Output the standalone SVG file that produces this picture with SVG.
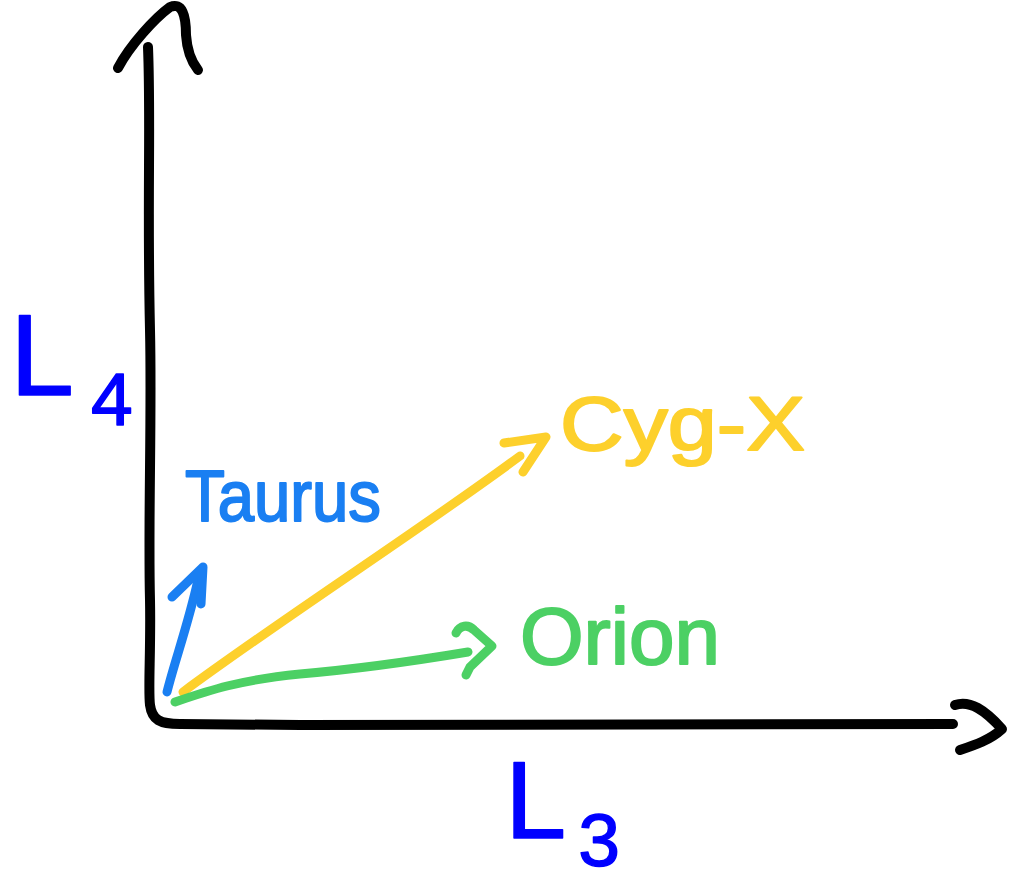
<svg xmlns="http://www.w3.org/2000/svg" width="1013" height="882" viewBox="0 0 1013 882">
<style>
.ink{fill:none;stroke-linecap:round;stroke-linejoin:round}
.ax{stroke:#000;stroke-width:10}
.taurus{stroke:#1a7ff2;stroke-width:9}
.cyg{stroke:#fdd02c;stroke-width:9}
.orion{stroke:#4cd064;stroke-width:9}
.lbl{font-family:"Liberation Sans","DejaVu Sans",sans-serif;stroke-linejoin:round}
.axlbl{font-family:"Liberation Sans","DejaVu Sans",sans-serif;fill:#0000ff;stroke:#0000ff;stroke-width:1.5;stroke-linejoin:round}
</style>
<rect width="1013" height="882" fill="#fff"/>
<g id="connectors">
  <g id="axes">
    <path class="ink ax" d="M148,47 C151,120 147,200 150,330 C152,420 148,520 150,600 C151,650 148,690 150,705 C152,720 160,724 180,724 L300,725 C500,726 700,723 953,724"/>
    <path class="ink ax" d="M118,68 C130,45 155,18 170,7 C182,2 186,15 186,35 C187,50 190,60 198,70"/>
    <path class="ink ax" d="M955,705 C970,700 985,710 1002,729 C990,740 975,745 960,750"/>
  </g>
  <g id="taurus-arrow">
    <path class="ink taurus" d="M167,692 C175,660 188,625 198,580"/>
    <path class="ink taurus" d="M172,597 L203,567 L201,604"/>
  </g>
  <g id="cyg-arrow">
    <path class="ink cyg" d="M183,692 C280,620 420,530 520,456"/>
    <path class="ink cyg" d="M504,443 L546,437 L523,472"/>
  </g>
  <g id="orion-arrow">
    <path class="ink orion" d="M175,702 C210,690 240,680 300,674 C370,668 420,660 468,652"/>
    <path class="ink orion" d="M456,633 C460,625 468,624 474,630 L492,646 L470,667 L466,675"/>
  </g>
</g>
<g id="axis-label-L4">
  <text class="axlbl" x="10" y="395" font-size="115">L<tspan font-size="75" dx="17" dy="30">4</tspan></text>
</g>
<g id="axis-label-L3">
  <text class="axlbl" x="505" y="838" font-size="110">L<tspan font-size="75" dx="12" dy="28">3</tspan></text>
</g>
<g id="node-taurus">
  <text class="lbl" x="185" y="521" font-size="72" textLength="196" lengthAdjust="spacingAndGlyphs" fill="#1a7ff2" stroke="#1a7ff2" stroke-width="2">Taurus</text>
</g>
<g id="node-cyg-x">
  <text class="lbl" x="560" y="450" font-size="76" textLength="245" lengthAdjust="spacingAndGlyphs" fill="#fdd02c" stroke="#fdd02c" stroke-width="2">Cyg-X</text>
</g>
<g id="node-orion">
  <text class="lbl" x="520" y="664" font-size="80" textLength="200" lengthAdjust="spacingAndGlyphs" fill="#4cd064" stroke="#4cd064" stroke-width="2">Orion</text>
</g>
</svg>
